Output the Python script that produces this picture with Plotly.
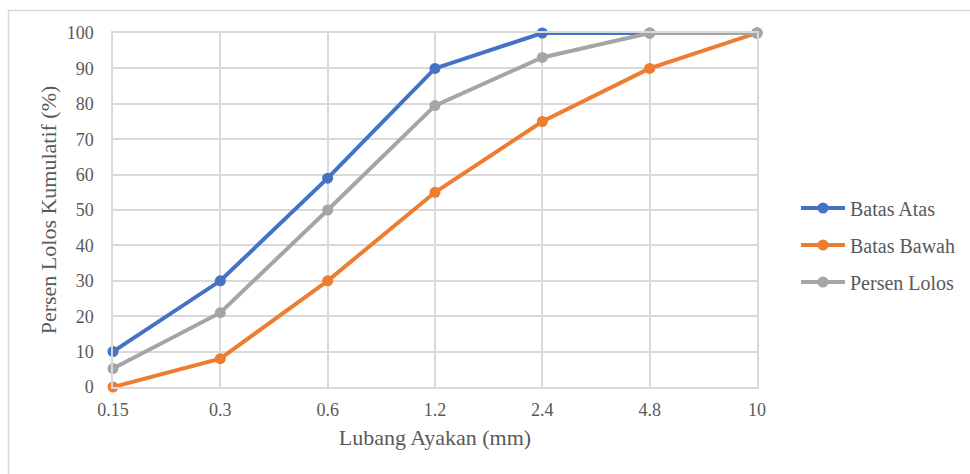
import plotly.graph_objects as go

# Sieve sizes (mm) and cumulative percent passing
sieve_sizes = ["0.15", "0.3", "0.6", "1.2", "2.4", "4.8", "10"]
batas_atas = [10, 30, 59, 90, 100, 100, 100]
batas_bawah = [0, 8, 30, 55, 75, 90, 100]
persen_lolos = [5.2, 21, 50, 79.5, 93.1, 100, 100]

y_ticks = list(range(0, 101, 10))

series = [
    ("Batas Atas", batas_atas, "#4472C4"),
    ("Batas Bawah", batas_bawah, "#ED7D31"),
    ("Persen Lolos", persen_lolos, "#A5A5A5"),
]

W, H = 970, 474
ML, MR, MT, MB = 113, 213, 33, 87
PW, PH = W - ML - MR, H - MT - MB

FONT = "Liberation Serif"
TEXT = "#595959"
GRID = "#D9D9D9"

fig = go.Figure()
for i, (name, vals, color) in enumerate(series):
    fig.add_trace(go.Scatter(
        x=list(range(len(sieve_sizes))), y=vals, name=name,
        mode="lines+markers", legendgroup=f"g{i}", cliponaxis=False,
        line=dict(color=color, width=4),
        marker=dict(color=color, size=11),
    ))


def px_x(p):
    return (p - ML) / PW


def px_y(p):
    return (H - MB - p) / PH


# light outer chart border
fig.add_shape(type="rect", xref="paper", yref="paper",
              x0=px_x(8.5), x1=px_x(990), y0=px_y(10.5), y1=px_y(495),
              line=dict(color="#D9D9D9", width=1.5), fillcolor="rgba(0,0,0,0)",
              layer="below")

fig.update_layout(
    width=W, height=H,
    margin=dict(l=ML, r=MR, t=MT, b=MB, autoexpand=False),
    paper_bgcolor="white", plot_bgcolor="white",
    font=dict(family=FONT, size=18, color=TEXT),
    showlegend=True,
    legend=dict(
        x=px_x(796), xanchor="left", y=px_y(245), yanchor="middle",
        font=dict(family=FONT, size=20, color=TEXT),
        traceorder="grouped", tracegroupgap=8,
        bgcolor="rgba(0,0,0,0)", itemwidth=44,
    ),
    xaxis=dict(
        range=[0, 6], tickmode="array",
        tickvals=list(range(len(sieve_sizes))), ticktext=sieve_sizes,
        showgrid=True, gridcolor=GRID, gridwidth=1.5,
        showline=True, linecolor=GRID, linewidth=1.5, mirror=True,
        zeroline=False, ticks="", ticklabelstandoff=6,
        tickfont=dict(family=FONT, size=18, color=TEXT),
        title=dict(text="Lubang Ayakan (mm)", standoff=10,
                   font=dict(family=FONT, size=22, color=TEXT)),
    ),
    yaxis=dict(
        range=[0, 100], tickmode="array", tickvals=y_ticks,
        showgrid=True, gridcolor=GRID, gridwidth=1.5,
        showline=True, linecolor=GRID, linewidth=1.5, mirror=True,
        zeroline=False, ticks="", ticklabelstandoff=14,
        tickfont=dict(family=FONT, size=18, color=TEXT),
        title=dict(text="Persen Lolos Kumulatif (%)", standoff=4,
                   font=dict(family=FONT, size=22, color=TEXT)),
    ),
)

fig.write_html("out.html")
